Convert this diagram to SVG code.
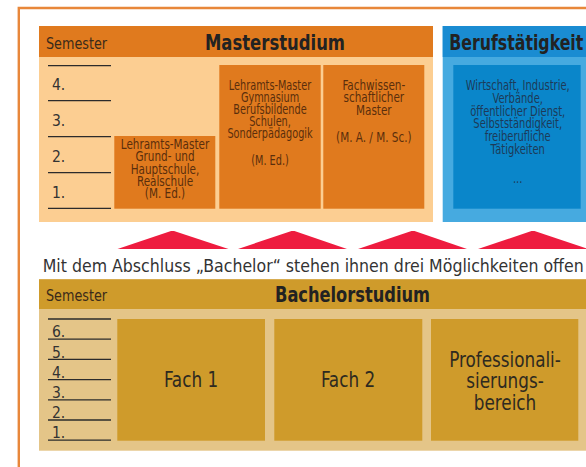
<svg xmlns="http://www.w3.org/2000/svg" width="586" height="467" viewBox="0 0 586 467">
<style>
text{font-family:"DejaVu Sans Condensed","Liberation Sans Narrow","Liberation Sans",sans-serif;}
.sem{font-size:16px;fill:#3a2a1a;}
.num{font-size:15.5px;fill:#333;}
.title{font-size:21px;font-weight:bold;fill:#222;}
.mbox{font-size:13.5px;fill:#5a2e0c;text-anchor:middle;}
.bbox{font-size:13.5px;fill:#1d3a58;text-anchor:middle;}
.fach{font-size:22px;fill:#2e2a20;text-anchor:middle;}
.ln{stroke:#2b2b2b;stroke-width:1.3;}
.tri{fill:#EE1C3F;}
</style>
<rect x="0" y="0" width="586" height="467" fill="#fff"/>
<path d="M18.8 467 V8 H586" fill="none" stroke="#E8873A" stroke-width="2.4"/>

<g id="masterstudium">
<rect x="39" y="26" width="394" height="196" fill="#FCCE92"/>
<rect x="39" y="26" width="394" height="31" fill="#E07A1E"/>
<text x="46" y="48.5" class="sem" textLength="61" lengthAdjust="spacingAndGlyphs">Semester</text>
<text x="205" y="50" class="title" textLength="140" lengthAdjust="spacingAndGlyphs">Masterstudium</text>
<g>
<line x1="48" y1="65.7" x2="111" y2="65.7" class="ln"/>
<line x1="48" y1="100.7" x2="111" y2="100.7" class="ln"/>
<line x1="48" y1="136.7" x2="111" y2="136.7" class="ln"/>
<line x1="48" y1="172.7" x2="111" y2="172.7" class="ln"/>
<line x1="48" y1="208.3" x2="111" y2="208.3" class="ln"/>
<text x="52" y="90" class="num">4.</text>
<text x="52" y="126" class="num">3.</text>
<text x="52" y="162" class="num">2.</text>
<text x="52" y="198" class="num">1.</text>
</g>
</g>

<g id="lehramt-grund">
<rect x="114.3" y="136" width="101" height="72.7" fill="#E07A1E"/>
<g transform="translate(165,0) scale(0.86,1)">
<text class="mbox"><tspan x="0" y="149">Lehramts-Master</tspan><tspan x="0" y="161.3">Grund- und</tspan><tspan x="0" y="173.6">Hauptschule,</tspan><tspan x="0" y="185.9">Realschule</tspan><tspan x="0" y="198.2">(M. Ed.)</tspan></text>
</g>
</g>

<g id="lehramt-gym">
<rect x="219.3" y="65" width="101.4" height="143.7" fill="#E07A1E"/>
<g transform="translate(270,0) scale(0.8,1)">
<text class="mbox"><tspan x="0" y="90">Lehramts-Master</tspan><tspan x="0" y="102">Gymnasium</tspan><tspan x="0" y="114">Berufsbildende</tspan><tspan x="0" y="126.5">Schulen,</tspan><tspan x="0" y="138.5">Sonderpädagogik</tspan><tspan x="0" y="165">(M. Ed.)</tspan></text>
</g>
</g>

<g id="fachwiss">
<rect x="323.3" y="65" width="101" height="143.7" fill="#E07A1E"/>
<g transform="translate(373.8,0) scale(0.86,1)">
<text class="mbox"><tspan x="0" y="90.5">Fachwissen-</tspan><tspan x="0" y="102.5">schaftlicher</tspan><tspan x="0" y="115">Master</tspan><tspan x="0" y="142">(M. A. / M. Sc.)</tspan></text>
</g>
</g>

<g id="berufstaetigkeit">
<rect x="442.7" y="26" width="143.3" height="196" fill="#46AAE0"/>
<rect x="442.7" y="26" width="143.3" height="31" fill="#1A8CD2"/>
<text x="449.3" y="50" class="title" textLength="134" lengthAdjust="spacingAndGlyphs">Berufstätigkeit</text>
<rect x="453.3" y="65" width="127.4" height="143.7" fill="#0A86CA"/>
<g transform="translate(517.7,0) scale(0.82,1)">
<text class="bbox"><tspan x="0" y="90">Wirtschaft, Industrie,</tspan><tspan x="0" y="103">Verbände,</tspan><tspan x="0" y="116">öffentlicher Dienst,</tspan><tspan x="0" y="128.5">Selbstständigkeit,</tspan><tspan x="0" y="141">freiberufliche</tspan><tspan x="0" y="154">Tätigkeiten</tspan><tspan x="0" y="183">...</tspan></text>
</g>
</g>

<g id="connectors">
<polygon class="tri" points="117.5,249 171,231 174,231 228.5,249"/>
<polygon class="tri" points="238,249 291.5,231 294.5,231 347,249"/>
<polygon class="tri" points="358,249 411.5,231 414.5,231 467,249"/>
<polygon class="tri" points="478,249 531.5,231 534.5,231 588,249"/>
</g>

<text x="42.7" y="272.3" font-size="18.5" fill="#333" textLength="541" lengthAdjust="spacingAndGlyphs">Mit dem Abschluss „Bachelor“ stehen ihnen drei Möglichkeiten offen</text>

<g id="bachelorstudium">
<rect x="39" y="279.3" width="547" height="171.4" fill="#E4C588"/>
<rect x="39" y="279.3" width="547" height="29.7" fill="#CF9B2B"/>
<text x="46" y="300.5" class="sem" textLength="61" lengthAdjust="spacingAndGlyphs">Semester</text>
<text x="275" y="302" class="title" textLength="155" lengthAdjust="spacingAndGlyphs">Bachelorstudium</text>
<g>
<line x1="48" y1="319" x2="111" y2="319" class="ln"/>
<line x1="48" y1="339.2" x2="111" y2="339.2" class="ln"/>
<line x1="48" y1="359.4" x2="111" y2="359.4" class="ln"/>
<line x1="48" y1="379.6" x2="111" y2="379.6" class="ln"/>
<line x1="48" y1="399.8" x2="111" y2="399.8" class="ln"/>
<line x1="48" y1="420" x2="111" y2="420" class="ln"/>
<line x1="48" y1="440.2" x2="111" y2="440.2" class="ln"/>
<text x="52" y="337.3" class="num">6.</text>
<text x="52" y="357.5" class="num">5.</text>
<text x="52" y="377.7" class="num">4.</text>
<text x="52" y="397.9" class="num">3.</text>
<text x="52" y="418.1" class="num">2.</text>
<text x="52" y="438.3" class="num">1.</text>
</g>
</g>

<g id="fach1">
<rect x="117.3" y="319" width="147.7" height="121.7" fill="#CF9B2B"/>
<g transform="translate(191,0) scale(0.85,1)"><text x="0" y="387.5" class="fach">Fach 1</text></g>
</g>
<g id="fach2">
<rect x="274.3" y="319" width="148" height="121.7" fill="#CF9B2B"/>
<g transform="translate(348,0) scale(0.85,1)"><text x="0" y="387.5" class="fach">Fach 2</text></g>
</g>
<g id="professionalisierung">
<rect x="431" y="319" width="147.3" height="121.7" fill="#CF9B2B"/>
<g transform="translate(505,0) scale(0.85,1)">
<text class="fach"><tspan x="0" y="367">Professionali-</tspan><tspan x="0" y="388.5">sierungs-</tspan><tspan x="0" y="410">bereich</tspan></text>
</g>
</g>
</svg>
